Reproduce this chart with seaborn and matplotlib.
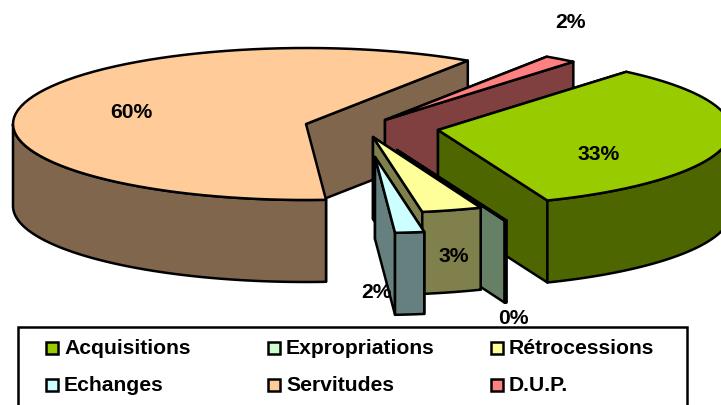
import numpy as np
import matplotlib
matplotlib.use("Agg")
import matplotlib.pyplot as plt
from matplotlib.patches import Polygon, Rectangle
import seaborn as sns

# Data
labels = ["Acquisitions", "Expropriations", "Rétrocessions", "Echanges", "Servitudes", "D.U.P."]
values = [32.8, 0.1, 3.3, 1.6, 60.4, 1.8]
colors = ["#99CC00", "#CCFFCC", "#FFFF99", "#CCFFFF", "#FFCC99", "#FF8080"]

# exploded centre of each slice + where the percent label sits (pixels)
centers = [(438, 130), (397, 150), (373, 137), (375, 157), (306, 124), (385, 120)]
label_pos = [(599, 155), (513, 319), (454, 256), (376, 293), (131, 113), (571, 23)]
draw_order = [4, 5, 0, 1, 2, 3]

RX, RY, DEPTH = 293, 76, 82
START = 50
LW = 1.8

sns.set_theme(style="white")
plt.rcParams["font.family"] = ["Liberation Sans", "DejaVu Sans"]

fig = plt.figure(figsize=(7.21, 4.05), dpi=100)
ax = fig.add_axes([0, 0, 1, 1])
ax.set_xlim(0, 721)
ax.set_ylim(405, 0)
ax.axis("off")


def arc(c, t0, t1, drop=0):
    t = np.radians(np.linspace(t0, t1, 80))
    return np.column_stack([c[0] + RX * np.cos(t), c[1] - RY * np.sin(t) + drop])


def face(pts, color, z):
    ax.add_patch(Polygon(pts, closed=True, fc=color, ec="black", lw=LW, joinstyle="round", zorder=z))


# slice angles, clockwise from START
sweeps = np.array(values) / sum(values) * 360
ends = START - np.cumsum(sweeps)
starts = ends + sweeps
dark = [tuple(0.5 * x for x in c) for c in sns.color_palette(colors)]

z = 2
for i in draw_order:
    c, t0, t1 = centers[i], starts[i], ends[i]
    # the two cut faces
    for t in (t0, t1):
        p = arc(c, t, t)[0]
        face([c, p, (p[0], p[1] + DEPTH), (c[0], c[1] + DEPTH)], dark[i], z)
    # outer wall, only the front half of the ellipse
    a, b = min(t0, 0), max(t1, -180)
    if a > b:
        face(np.vstack([arc(c, a, b), arc(c, b, a, DEPTH)]), dark[i], z)
    # top
    face(np.vstack([[c], arc(c, t0, t1)]), colors[i], z)
    z += 1

for lab, v, pos in zip(labels, values, label_pos):
    ax.text(pos[0], pos[1], f"{round(v)}%", ha="center", va="center", fontsize=15.2,
            fontweight="bold", color="black", zorder=20)

# legend box runs off the bottom of the picture
ax.add_patch(Rectangle((18, 327), 669, 100, fc="white", ec="black", lw=LW, zorder=21))
col_x = [46, 268, 491]
row_y = [348, 385]
for i, lab in enumerate(labels):
    x, y = col_x[i % 3], row_y[i // 3]
    ax.add_patch(Rectangle((x, y - 6), 12, 12, fc=colors[i], ec="black", lw=LW, zorder=22))
    ax.text(x + 18, y + 6, lab, ha="left", va="baseline", fontsize=15.2, fontweight="bold",
            color="black", zorder=22)

fig.savefig("out.png", dpi=100)
